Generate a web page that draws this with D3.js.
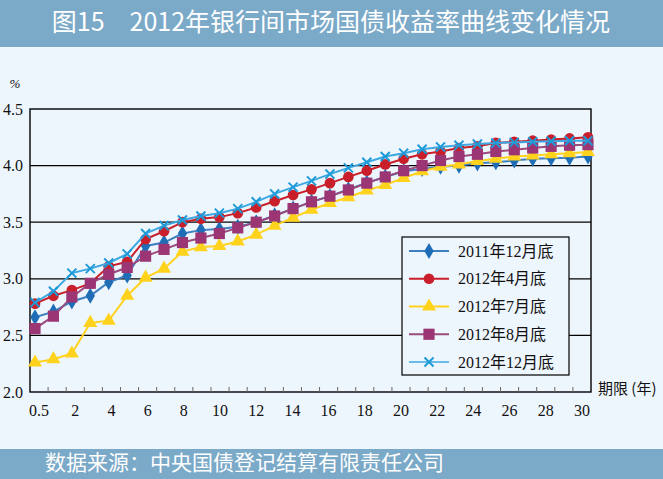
<!DOCTYPE html>
<html><head><meta charset="utf-8">
<script src="https://cdn.jsdelivr.net/npm/d3@7"></script>
<style>body{margin:0;background:#EEF6FD;}svg{display:block;}</style>
</head><body>
<svg id="c" width="663" height="479"></svg>
<script>
const categories = ["0.5","1","2","3","4","5","6","7","8","9","10","11","12","13","14","15","16","17","18","19","20","21","22","23","24","25","26","27","28","29","30"];
const tickLabels = ["0.5","2","4","6","8","10","12","14","16","18","20","22","24","26","28","30"];
const yTicks = [2.0, 2.5, 3.0, 3.5, 4.0, 4.5];
const seriesNames = ["2011年12月底","2012年4月底","2012年7月底","2012年8月底","2012年12月底"];
const dec2011 = [2.66,2.71,2.80,2.85,2.97,3.03,3.29,3.32,3.40,3.43,3.44,3.46,3.50,3.56,3.62,3.68,3.73,3.79,3.85,3.90,3.95,3.97,3.99,4.00,4.02,4.03,4.045,4.06,4.065,4.07,4.08];
const apr2012 = [2.78,2.85,2.90,2.96,3.11,3.15,3.35,3.42,3.50,3.53,3.545,3.58,3.63,3.685,3.74,3.79,3.845,3.90,3.955,4.01,4.06,4.10,4.125,4.155,4.17,4.20,4.21,4.22,4.23,4.24,4.25];
const jul2012 = [2.26,2.29,2.34,2.61,2.63,2.85,3.01,3.09,3.24,3.28,3.29,3.33,3.39,3.47,3.54,3.61,3.67,3.72,3.78,3.83,3.89,3.95,3.99,4.01,4.04,4.06,4.08,4.09,4.10,4.11,4.12];
const aug2012 = [2.56,2.67,2.84,2.96,3.04,3.10,3.20,3.26,3.32,3.36,3.40,3.45,3.50,3.555,3.62,3.68,3.73,3.785,3.845,3.90,3.955,4.00,4.045,4.08,4.10,4.125,4.14,4.155,4.17,4.18,4.185];
const dec2012 = [2.79,2.89,3.05,3.09,3.14,3.22,3.40,3.47,3.52,3.555,3.58,3.62,3.68,3.75,3.81,3.865,3.925,3.98,4.03,4.08,4.11,4.145,4.165,4.18,4.19,4.20,4.205,4.21,4.215,4.22,4.22];

const seriesValues = [dec2011, apr2012, jul2012, aug2012, dec2012];
const styles = [
  {color:"#1F6DB6", line:"#3E7FC0", sym:d3.symbolDiamond, size:75},
  {color:"#C81F2A", line:"#C81F2A", sym:d3.symbolCircle, size:90},
  {color:"#FFD21E", line:"#FFD21E", sym:d3.symbolTriangle, size:85},
  {color:"#9B3573", line:"#9B4A7E", sym:d3.symbolSquare, size:125},
  {color:"#1E9AD8", line:"#3DA8E2", sym:d3.symbolX, size:55}
];

const svg = d3.select("#c");
const W = 663, H = 479;
const L = 30, R = 591, T = 109, B = 392;

svg.append("rect").attr("x",0).attr("y",0).attr("width",W).attr("height",H).attr("fill","#EEF6FD");
svg.append("rect").attr("x",0).attr("y",0).attr("width",W).attr("height",47).attr("fill","#7BA9C8");
svg.append("text").attr("x",331).attr("y",22).attr("dy","0.35em").attr("text-anchor","middle")
  .attr("fill","#fff").attr("font-family","'Noto Sans CJK SC'").attr("font-size",25)
  .text("图15　2012年银行间市场国债收益率曲线变化情况");
svg.append("rect").attr("x",0).attr("y",449).attr("width",W).attr("height",30).attr("fill","#7BA9C8");
svg.append("text").attr("x",45).attr("y",463).attr("dy","0.35em")
  .attr("fill","#fff").attr("font-family","'Noto Sans CJK SC'").attr("font-size",21)
  .text("数据来源：中央国债登记结算有限责任公司");

const xBand = d3.scaleBand().domain(categories).range([L, R]);
const xPt = d3.scalePoint().domain(categories).range([L + 5, R - 3]);
const y = d3.scaleLinear().domain([2.0, 4.5]).range([B, T]);

svg.append("g").selectAll("line").data(yTicks.filter(v => v > 2 && v < 4.5)).join("line")
  .attr("x1",L).attr("x2",R).attr("y1",d=>y(d)).attr("y2",d=>y(d))
  .attr("stroke","#000").attr("stroke-width",1.3);
svg.append("rect").attr("x",L).attr("y",T).attr("width",R-L).attr("height",B-T)
  .attr("fill","none").attr("stroke","#000").attr("stroke-width",1.4);

svg.append("g").selectAll("line").data(categories.slice(1)).join("line")
  .attr("x1",d=>xBand(d)).attr("x2",d=>xBand(d)).attr("y1",B).attr("y2",B-5)
  .attr("stroke","#666").attr("stroke-width",1);
svg.append("g").selectAll("text").data(tickLabels).join("text")
  .attr("x",d=>xBand(d)+xBand.bandwidth()/2).attr("y",410).attr("dy","0.35em")
  .attr("text-anchor","middle").attr("font-family","'Liberation Serif'").attr("font-size",16).attr("fill","#111")
  .text(d=>d);
svg.append("g").selectAll("text").data(yTicks).join("text")
  .attr("x",23).attr("y",d=>y(d)).attr("dy","0.35em")
  .attr("text-anchor","end").attr("font-family","'Liberation Serif'").attr("font-size",16).attr("fill","#111")
  .text(d=>d.toFixed(1));
svg.append("text").attr("x",15).attr("y",83).attr("dy","0.35em").attr("text-anchor","middle")
  .attr("font-family","'Liberation Serif'").attr("font-style","italic").attr("font-size",13).attr("fill","#111").text("%");
svg.append("text").attr("x",598).attr("y",389).attr("dy","0.35em")
  .attr("font-family","'Noto Sans CJK SC'").attr("font-size",15).attr("fill","#111").text("期限 (年)");

const line = d3.line().x((d,i)=>xPt(categories[i])).y(d=>y(d));
seriesValues.forEach((vals, si) => {
  const st = styles[si];
  const g = svg.append("g");
  g.append("path").datum(vals).attr("d", line).attr("fill","none")
    .attr("stroke", st.line).attr("stroke-width", 2);
  const sym = d3.symbol().type(st.sym).size(st.size);
  g.selectAll("path.m").data(vals).join("path").attr("class","m")
    .attr("transform",(d,i)=>`translate(${xPt(categories[i])},${y(d)})`)
    .attr("d", sym())
    .attr("fill", si === 4 ? "none" : st.color)
    .attr("stroke", si === 4 ? st.color : "none")
    .attr("stroke-width", si === 4 ? 2 : 0);
});

const lg = svg.append("g");
lg.append("rect").attr("x",402).attr("y",237).attr("width",167).attr("height",138)
  .attr("fill","#EEF6FD").attr("stroke","#000").attr("stroke-width",1.2);
const rowY = d3.scalePoint().domain(seriesNames).range([251, 362]);
seriesNames.forEach((name, si) => {
  const st = styles[si];
  const yy = rowY(name);
  lg.append("line").attr("x1",409).attr("x2",449).attr("y1",yy).attr("y2",yy)
    .attr("stroke", si===4 ? "#6BBBE8" : st.line).attr("stroke-width",2);
  lg.append("path").attr("transform",`translate(429,${yy})`)
    .attr("d", d3.symbol().type(st.sym).size(st.size)())
    .attr("fill", si === 4 ? "none" : st.color)
    .attr("stroke", si === 4 ? st.color : "none")
    .attr("stroke-width", si === 4 ? 2 : 0);
  lg.append("text").attr("x",458).attr("y",yy).attr("dy","0.35em")
    .attr("font-family","'Liberation Serif','Noto Sans CJK SC'").attr("font-size",16).attr("fill","#111")
    .text(name);
});
</script>
</body></html>
